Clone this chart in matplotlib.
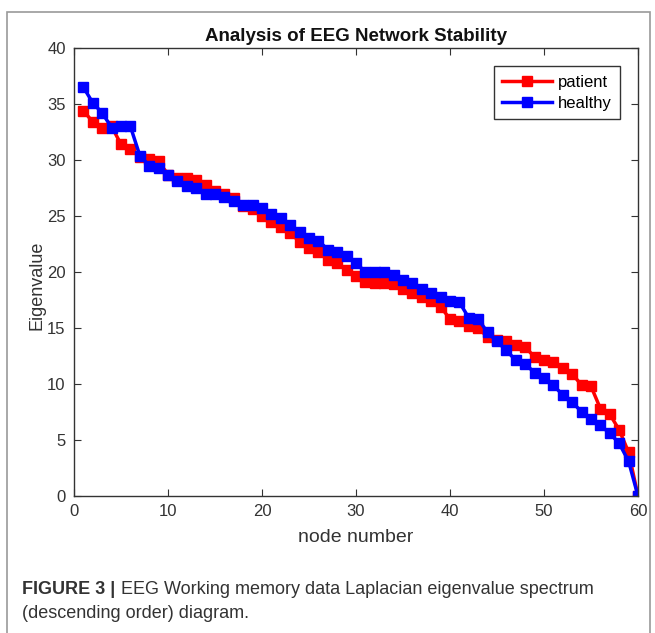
import matplotlib.pyplot as plt
from matplotlib.patches import Rectangle

plt.rcParams['font.family'] = ['Liberation Sans', 'DejaVu Sans']

# node index 1..60
nodes = list(range(1, 61))

patient = [34.4, 33.4, 32.9, 33.0, 31.4, 31.0, 30.3, 30.1, 29.9, 28.7,
           28.4, 28.4, 28.2, 27.8, 27.2, 27.0, 26.6, 25.9, 25.6, 25.0,
           24.5, 24.0, 23.5, 22.7, 22.1, 21.8, 21.1, 20.8, 20.2, 19.6,
           19.1, 19.0, 19.0, 18.9, 18.5, 18.1, 17.8, 17.4, 16.9, 15.8,
           15.6, 15.2, 15.0, 14.2, 13.9, 13.8, 13.5, 13.3, 12.4, 12.1,
           12.0, 11.4, 10.9, 9.9, 9.8, 7.8, 7.3, 5.9, 3.9, 0.0]

healthy = [36.5, 35.1, 34.2, 32.9, 33.0, 33.0, 30.4, 29.5, 29.3, 28.7,
           28.1, 27.7, 27.5, 27.0, 27.0, 26.7, 26.3, 26.0, 26.0, 25.7,
           25.2, 24.8, 24.2, 23.6, 23.0, 22.8, 22.0, 21.8, 21.4, 20.8,
           20.0, 20.0, 20.0, 19.7, 19.3, 19.0, 18.5, 18.1, 17.8, 17.4,
           17.3, 15.9, 15.8, 14.6, 13.8, 13.0, 12.1, 11.8, 11.0, 10.5,
           9.9, 9.0, 8.4, 7.5, 6.9, 6.3, 5.6, 4.7, 3.1, 0.0]

fig = plt.figure(figsize=(6.55, 6.33), dpi=100)

# outer frame around figure + caption
fig.patches.append(Rectangle((7 / 655, -0.05), 643 / 655, 1 - 12 / 633 + 0.05,
                             transform=fig.transFigure, fill=False,
                             edgecolor='#9a9a9a', linewidth=1.2))

ax = fig.add_axes([74 / 655, 1 - 496 / 633, 564 / 655, 448 / 633])

ax.plot(nodes, patient, color='#ff0000', marker='s', markersize=7,
        linewidth=2.5, label='patient')
ax.plot(nodes, healthy, color='#0000ff', marker='s', markersize=7,
        linewidth=2.5, label='healthy')

ax.set_xlim(0, 60)
ax.set_ylim(0, 40)
ax.set_xticks(range(0, 61, 10))
ax.set_yticks(range(0, 41, 5))
ax.tick_params(direction='in', top=True, right=True, length=5,
               labelsize=12, colors='#333333', pad=6)
for s in ax.spines.values():
    s.set_color('#333333')
    s.set_linewidth(1.0)

ax.set_title('Analysis of EEG Network Stability', fontsize=13.5,
             fontweight='bold', color='#111111', pad=5)
ax.set_xlabel('node number', fontsize=14, color='#333333', labelpad=7)
ax.set_ylabel('Eigenvalue', fontsize=13, color='#333333')
ax.yaxis.set_label_coords(-0.05, 0.47)

leg = ax.legend(loc='upper right', fontsize=12, handlelength=3.0,
                fancybox=False, framealpha=1, edgecolor='#333333',
                borderaxespad=1.1, handletextpad=0.3, labelspacing=0.35,
                borderpad=0.5)
leg.get_frame().set_linewidth(1.0)

fig.text(22 / 655, 1 - 590 / 633, 'FIGURE 3 |', fontsize=13,
         fontweight='bold', color='#333333', va='center')
fig.text(121 / 655, 1 - 590 / 633,
         'EEG Working memory data Laplacian eigenvalue spectrum',
         fontsize=13, color='#333333', va='center')
fig.text(22 / 655, 1 - 614 / 633, '(descending order) diagram.',
         fontsize=13, color='#333333', va='center')

fig.savefig('out.png', dpi=100)
